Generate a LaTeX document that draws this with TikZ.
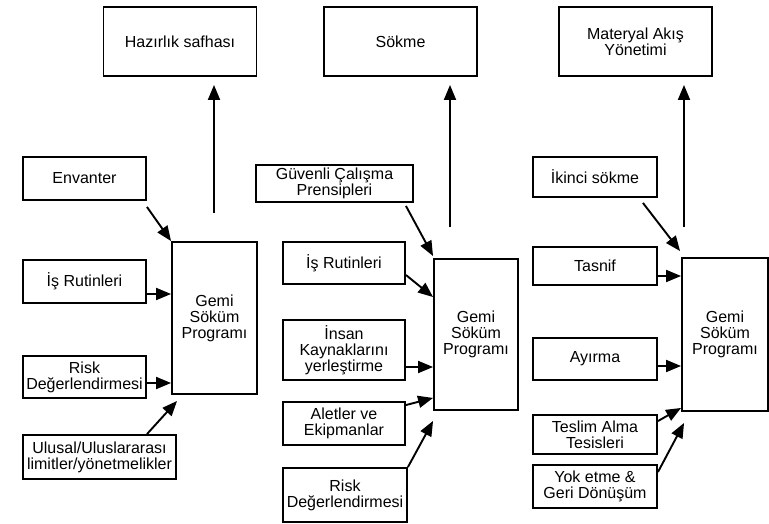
\documentclass[tikz,border=0pt]{standalone}
\usepackage{fontspec}
\setmainfont{Liberation Sans}
\usetikzlibrary{arrows.meta}
\begin{document}
\begin{tikzpicture}[x=1pt,y=-1pt,line width=1.9pt,
    box/.style={draw,align=center,inner sep=0pt,font=\fontsize{16}{16}\selectfont},
    goal/.style={box,minimum width=153pt,minimum height=69pt},
    gemi/.style={box,minimum width=85pt,minimum height=152pt},
    flow/.style={-{Triangle[length=15pt,width=12pt]}}]
    \useasboundingbox (0,0) rectangle (769,524);
    \node[goal] (haz) at (180,41.5) {Hazırlık safhası};
    \node[box,minimum width=123pt,minimum height=43pt] (env) at (84.5,178.5) {Envanter};
    \node[box,minimum width=123pt,minimum height=43pt] (is1) at (84.5,281.5) {İş Rutinleri};
    \node[box,minimum width=123pt,minimum height=42pt] (risk1) at (84.5,377) {Risk\\Değerlendirmesi};
    \node[box,minimum width=153pt,minimum height=44pt] (ulusal) at (99.5,457) {Ulusal/Uluslararası\\limitler/yönetmelikler};
    \node[gemi] (gemi1) at (214.5,318) {Gemi\\Söküm\\Programı};
    \coordinate (up1) at (214,213);
    \draw[flow] (up1) -- ([yshift=-8pt]up1 |- haz.south);
    \draw[flow] ([yshift=-6pt]env.south east) -- (gemi1.north west);
    \draw[flow] ([yshift=-12.5pt]is1.east) -- ([yshift=-12.5pt]is1.east -| gemi1.west);
    \draw[flow] ([yshift=-6pt]risk1.east) -- ([yshift=-6pt]risk1.east -| gemi1.west);
    \draw[flow] ([xshift=47.5pt]ulusal.north) -- ([xshift=6pt,yshift=-6pt]gemi1.south west);

    \node[goal] (sok) at (400.5,41.5) {Sökme};
    \node[box,minimum width=157pt,minimum height=37pt] (guv) at (334.5,183.5) {Güvenli Çalışma\\Prensipleri};
    \node[box,minimum width=122pt,minimum height=42pt] (is2) at (344,263) {İş Rutinleri};
    \node[box,minimum width=122pt,minimum height=60pt] (insan) at (344,350) {İnsan\\Kaynaklarını\\yerleştirme};
    \node[box,minimum width=122pt,minimum height=43pt] (aletler) at (344,423.5) {Aletler ve\\Ekipmanlar};
    \node[box,minimum width=124pt,minimum height=54pt] (risk2) at (345,495) {Risk\\Değerlendirmesi};
    \node[gemi,minimum width=84pt,minimum height=151pt] (gemi2) at (476,334.5) {Gemi\\Söküm\\Programı};
    \coordinate (up2) at (450,227);
    \draw[flow] (up2) -- ([yshift=-8pt]up2 |- sok.south);
    \draw[flow] ([xshift=-8pt,yshift=-3pt]guv.south east) -- ([yshift=2pt]gemi2.north west);
    \draw[flow] ([yshift=-12pt]is2.east) -- ([yshift=-39pt]gemi2.north west);
    \draw[flow] ([yshift=-17pt]insan.east) -- ([yshift=-17pt]insan.east -| gemi2.west);
    \draw[flow] ([yshift=-4pt]aletler.north east) -- ([yshift=13pt]gemi2.south west);
    \draw[flow] (risk2.north east) -- ([yshift=-10pt]gemi2.south west);

    \node[goal] (mat) at (635.5,41.5) {Materyal Akış\\Yönetimi};
    \node[box,minimum width=124pt,minimum height=40pt] (ikinci) at (595,177) {İkinci sökme};
    \node[box,minimum width=124pt,minimum height=38pt] (tasnif) at (595,266) {Tasnif};
    \node[box,minimum width=124pt,minimum height=42pt] (ayirma) at (595,359) {Ayırma};
    \node[box,minimum width=124pt,minimum height=39pt] (teslim) at (595,434.5) {Teslim Alma\\Tesisleri};
    \node[box,minimum width=124pt,minimum height=43pt] (yok) at (595,486.5) {Yok etme \&\\Geri Dönüşüm};
    \node[gemi,minimum width=86pt,minimum height=153pt] (gemi3) at (725,334.5) {Gemi\\Söküm\\Programı};
    \coordinate (up3) at (684,227);
    \draw[flow] (up3) -- ([yshift=-8pt]up3 |- mat.south);
    \draw[flow] ([xshift=-15pt,yshift=-5pt]ikinci.south east) -- ([xshift=-1pt,yshift=6pt]gemi3.north west);
    \draw[flow] ([yshift=-10pt]tasnif.east) -- ([yshift=-10pt]tasnif.east -| gemi3.west);
    \draw[flow] ([yshift=-7pt]ayirma.east) -- ([yshift=-7pt]ayirma.east -| gemi3.west);
    \draw[flow] ([yshift=-7pt]teslim.north east) -- ([yshift=4pt]gemi3.south west);
    \draw[flow] ([yshift=-8pt]yok.north east) -- ([xshift=3pt,yshift=-11pt]gemi3.south west);
\end{tikzpicture}
\end{document}
